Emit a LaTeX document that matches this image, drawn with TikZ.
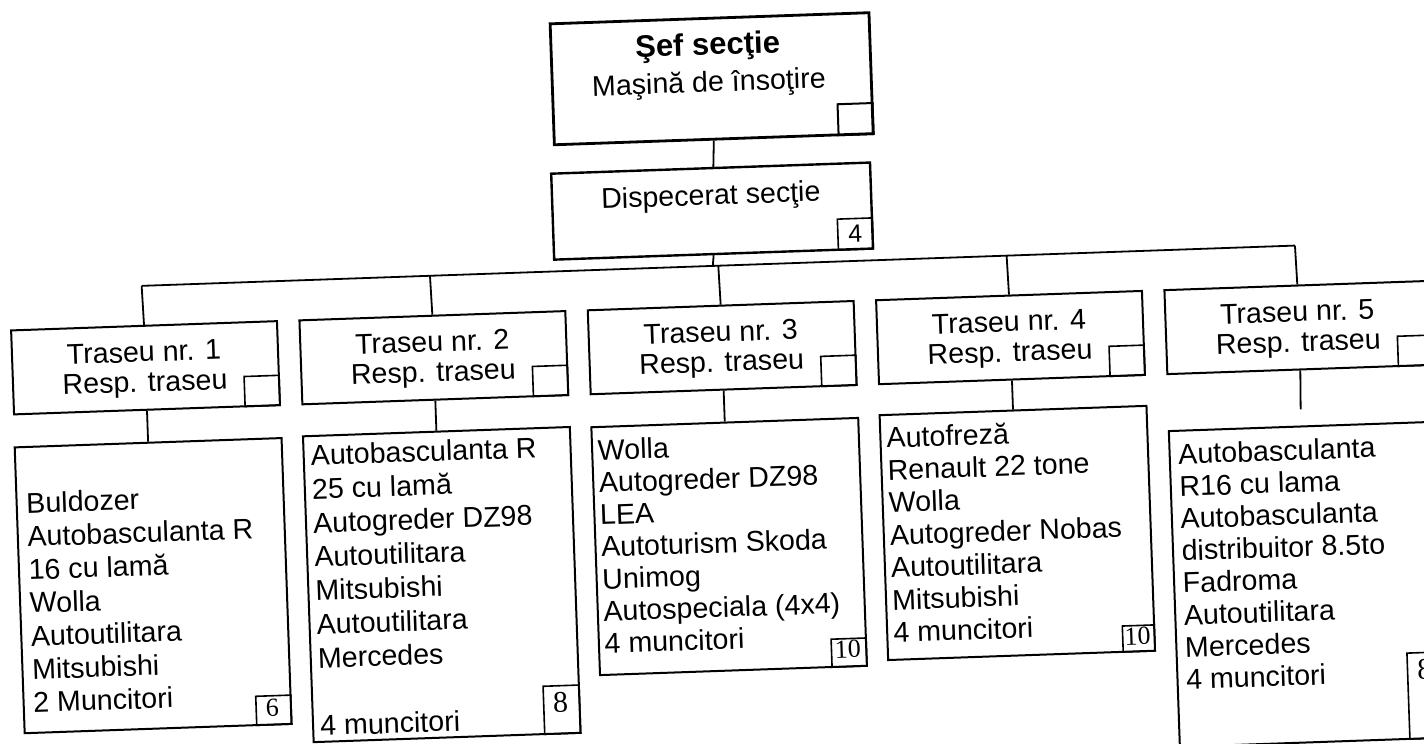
\documentclass[tikz,border=0pt]{standalone}
\usepackage{fontspec}
\setmainfont{Liberation Sans}
\newfontfamily\numfont{Liberation Serif}
\begin{document}
\begin{tikzpicture}[x=1pt,y=-1pt,
  box/.style={draw, line width=2pt, inner sep=0pt, anchor=north west},
  sq/.style={draw, line width=1.6pt, inner sep=0pt, anchor=south east},
  conn/.style={line width=1.8pt},
  lbl/.style={font=\fontsize{28.6}{30}\selectfont, inner sep=0pt, anchor=base},
  lst/.style={inner sep=0pt, anchor=north west, align=left},
  num/.style={font=\numfont\fontsize{26}{26}\selectfont, inner sep=0pt}
]
\useasboundingbox (0,0) rectangle (1424,744);
\fill[white] (0,0) rectangle (1424,744);
\clip (0,0) rectangle (1424,744);
\begin{scope}[rotate around={2:(712,372)}, transform shape]
% top box
\node[box, line width=2.8pt, minimum width=319pt, minimum height=121pt] (A) at (561,17) {};
\node[font=\bfseries\fontsize{31}{31}\selectfont, inner sep=0pt, anchor=base] (At1) at (719,55) {Şef secţie};
\node[lbl] (At2) at (719,92) {Maşină de însoţire};
\node[sq, line width=2pt, minimum width=35pt, minimum height=31pt] (Asq) at (A.south east) {};
% dispecerat
\node[box, line width=2.4pt, minimum width=319pt, minimum height=86pt] (B) at (557,167) {};
\node[lbl] (Bt) at (717,205) {Dispecerat secţie};
\node[sq, minimum width=35pt, minimum height=31pt] (Bsq) at (B.south east) {};
\node[font=\fontsize{25}{25}\selectfont, inner sep=0pt] (Bn) at (Bsq.center) {4};
\coordinate (ab) at (720.5,167);
\draw[conn] (A.south) -- (ab);
% bus
\coordinate (bj) at (716.5,266);
\coordinate (b1) at (145,266);
\coordinate (b2) at (433.5,266);
\coordinate (b3) at (722,266);
\coordinate (b4) at (1010.5,266);
\coordinate (b5) at (1299,266);
\draw[conn] (B.south) -- (bj);
\draw[conn] (b1) -- (b5);
% traseu boxes
\foreach \i/\xl in {1/12,2/300.5,3/589,4/877.5,5/1166}{
  \node[box, minimum width=266pt, minimum height=84pt] (T\i) at (\xl,305) {};
  \node[lbl] (T\i a) at (\xl+133,342) {Traseu nr. \i};
  \node[lbl] (T\i b) at (\xl+133,372) {Resp. traseu};
  \node[sq, minimum width=35pt, minimum height=30pt] (T\i sq) at (T\i.south east) {};
  \draw[conn] (b\i) -- (T\i.north);
}
% lower boxes
\node[box, minimum width=267pt, minimum height=286pt] (L1) at (11.5,422) {};
\node[box, minimum width=267pt, minimum height=306pt] (L2) at (300,421) {};
\node[box, minimum width=267pt, minimum height=248pt] (L3) at (588.5,422) {};
\node[box, minimum width=267pt, minimum height=245pt] (L4) at (877,420) {};
\node[box, minimum width=267pt, minimum height=316pt] (L5) at (1165.5,446) {};
\draw[conn] (T1.south) -- (L1.north);
\draw[conn] (T2.south) -- (L2.north);
\draw[conn] (T3.south) -- (L3.north);
\draw[conn] (T4.south) -- (L4.north);
\coordinate (c5) at (1299,430);
\draw[conn] (T5.south) -- (c5);
% texts
\node[lst, font=\fontsize{28.6}{33.2}\selectfont] (L1t) at (22,468.5)
  {Buldozer\\Autobasculanta R\\16 cu lamă\\Wolla\\Autoutilitara\\Mitsubishi\\2 Muncitori};
\node[lst, font=\fontsize{28.6}{33.8}\selectfont] (L2t) at (308,430.5)
  {Autobasculanta R\\25 cu lamă\\Autogreder DZ98\\Autoutilitara\\Mitsubishi\\Autoutilitara\\Mercedes\\[33.8pt]4 muncitori};
\node[lst, font=\fontsize{28.6}{32.2}\selectfont] (L3t) at (595,435.5)
  {Wolla\\Autogreder DZ98\\LEA\\Autoturism Skoda\\Unimog\\Autospeciala (4x4)\\4 muncitori};
\node[lst, font=\fontsize{28.6}{32.5}\selectfont] (L4t) at (884,432.5)
  {Autofreză\\Renault 22 tone\\Wolla\\Autogreder Nobas\\Autoutilitara\\Mitsubishi\\4 muncitori};
\node[lst, font=\fontsize{28.6}{32.2}\selectfont] (L5t) at (1175,459.5)
  {Autobasculanta\\R16 cu lama\\Autobasculanta\\distribuitor 8.5to\\Fadroma\\Autoutilitara\\Mercedes\\4 muncitori};
% number boxes
\node[sq, minimum width=35pt, minimum height=29pt] (L1sq) at (L1.south east) {};
\node[num] (L1n) at (261,692) {6};
\node[sq, minimum width=36pt, minimum height=48pt] (L2sq) at (L2.south east) {};
\node[num, font=\numfont\fontsize{30}{30}\selectfont] (L2n) at (549,697) {8};
\node[sq, minimum width=35pt, minimum height=28pt] (L3sq) at (L3.south east) {};
\node[num] (L3n) at (838,654) {10};
\node[sq, minimum width=32pt, minimum height=26pt] (L4sq) at (L4.south east) {};
\node[num] (L4n) at (1128,651) {10};
\node[sq, minimum width=37pt, minimum height=86pt] (L5sq) at (L5.south east) {};
\node[num, font=\numfont\fontsize{30}{30}\selectfont] (L5n) at (1414,694) {8};
\end{scope}
\end{tikzpicture}
\end{document}
